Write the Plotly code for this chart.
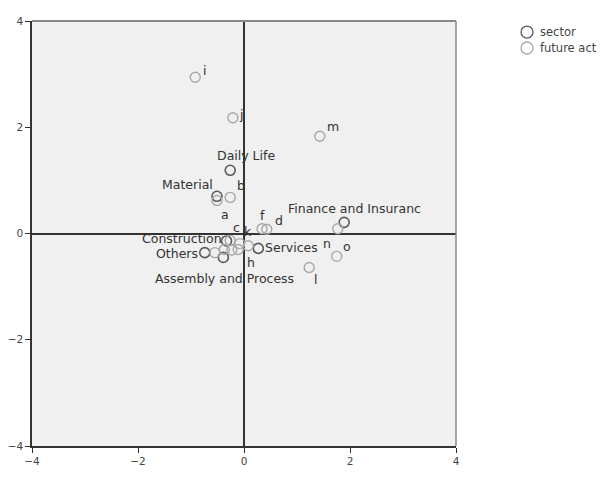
import plotly.graph_objects as go

# Sector (row) points
sector_names = ["Daily Life", "Material", "Finance and Insuranc", "Construction",
                "Others", "Services", "Assembly and Process"]
sector_x = [-0.26, -0.51, 1.89, -0.33, -0.74, 0.27, -0.39]
sector_y = [1.19, 0.70, 0.21, -0.14, -0.36, -0.28, -0.45]

# Future act (column) points
future_names = ["a", "b", "c", "d", "e", "f", "g", "h", "i", "j", "k", "l", "m", "n", "o", "p", "q"]
future_x = [-0.51, -0.26, -0.26, 0.43, -0.55, 0.34, -0.23, 0.08, -0.92, -0.21, -0.08, 1.23, 1.43, 1.77, 1.75, -0.11, -0.37]
future_y = [0.62, 0.68, -0.13, 0.08, -0.36, 0.09, -0.31, -0.23, 2.94, 2.18, -0.19, -0.64, 1.83, 0.09, -0.43, -0.30, -0.30]
future_shown = [True, True, True, True, False, True, False, True, True, True, True, True, True, True, True, False, False]

tick_vals = [-4, -2, 0, 2, 4]
legend_names = ["sector", "future act"]

# label placement (pixel offsets, style only)
sector_label_style = {
    "Daily Life": (16, -15, "center"),
    "Material": (-29, -12, "center"),
    "Finance and Insuranc": (10, -14, "center"),
    "Construction": (-3, -2, "right"),
    "Others": (-5, 1, "right"),
    "Services": (5, -1, "left"),
    "Assembly and Process": (1, 21, "center"),
}
future_label_style = {
    "a": (8, 14), "b": (11, -12), "c": (6, -13), "d": (12, -9), "f": (0, -13),
    "h": (3, 17), "i": (9, -7), "j": (8, -3), "k": (8, -12), "l": (6, 12),
    "m": (13, -10), "n": (-11, 15), "o": (10, -10),
}

FONT = "DejaVu Sans"
TXT = "#333333"
SEC_COL = "#5a5a5a"
FUT_COL = "#a8a8a8"
LABEL_SIZE = 12.5

fig = go.Figure()
fig.add_trace(go.Scatter(
    x=sector_x, y=sector_y, mode="markers", name="sector", showlegend=False,
    marker=dict(symbol="circle-open", size=10, color=SEC_COL, line=dict(width=1.6, color=SEC_COL)),
))
fig.add_trace(go.Scatter(
    x=future_x, y=future_y, mode="markers", name="future act", showlegend=False,
    marker=dict(symbol="circle-open", size=10, color=FUT_COL, line=dict(width=1.4, color=FUT_COL)),
))

annotations = []
for n, x, y in zip(sector_names, sector_x, sector_y):
    dx, dy, anchor = sector_label_style[n]
    annotations.append(dict(x=x, y=y, xref="x", yref="y", text=n, showarrow=False,
                            xshift=dx, yshift=-dy, xanchor=anchor, yanchor="middle",
                            font=dict(family=FONT, size=LABEL_SIZE, color=TXT)))
for n, x, y, s in zip(future_names, future_x, future_y, future_shown):
    if not s:
        continue
    dx, dy = future_label_style[n]
    annotations.append(dict(x=x, y=y, xref="x", yref="y", text=n, showarrow=False,
                            xshift=dx, yshift=-dy, xanchor="center", yanchor="middle",
                            font=dict(family=FONT, size=LABEL_SIZE, color=TXT)))

# manual legend (paper coordinates; plot spans 424x425 px)
shapes = [
    dict(type="line", xref="paper", yref="paper", x0=0, x1=1, y0=1, y1=1,
         line=dict(color="#8a8a8a", width=2)),
    dict(type="line", xref="paper", yref="paper", x0=1, x1=1, y0=0, y1=1,
         line=dict(color="#8a8a8a", width=1.5)),
]
leg_cols = [SEC_COL, FUT_COL]
leg_y = [0.974, 0.9365]
cx, rx, ry = 1.1675, 6 / 424, 6 / 425
for name, col, ly in zip(legend_names, leg_cols, leg_y):
    shapes.append(dict(type="circle", xref="paper", yref="paper",
                       x0=cx - rx, x1=cx + rx, y0=ly - ry, y1=ly + ry,
                       line=dict(color=col, width=1.3)))
    annotations.append(dict(x=1.1934, y=ly, xref="paper", yref="paper", text=name,
                            showarrow=False, xanchor="left", yanchor="middle",
                            font=dict(family=FONT, size=11.5, color="#444444")))

axis_common = dict(
    range=[-4, 4], tickvals=tick_vals, ticks="outside", ticklen=5, tickwidth=1.2,
    tickcolor="#333333", showgrid=False, zeroline=True, zerolinecolor="#333333",
    zerolinewidth=1.5, showline=True, linecolor="#333333", linewidth=1.5,
    tickfont=dict(family=FONT, size=10.5, color="#444444"), automargin=False,
)

fig.update_layout(
    width=605, height=493,
    margin=dict(l=32, r=149, t=21, b=47),
    paper_bgcolor="white", plot_bgcolor="#f0f0f0",
    xaxis=dict(**axis_common),
    yaxis=dict(**axis_common),
    annotations=annotations,
    showlegend=False,
    shapes=shapes,
)

fig.write_html("out.html")
